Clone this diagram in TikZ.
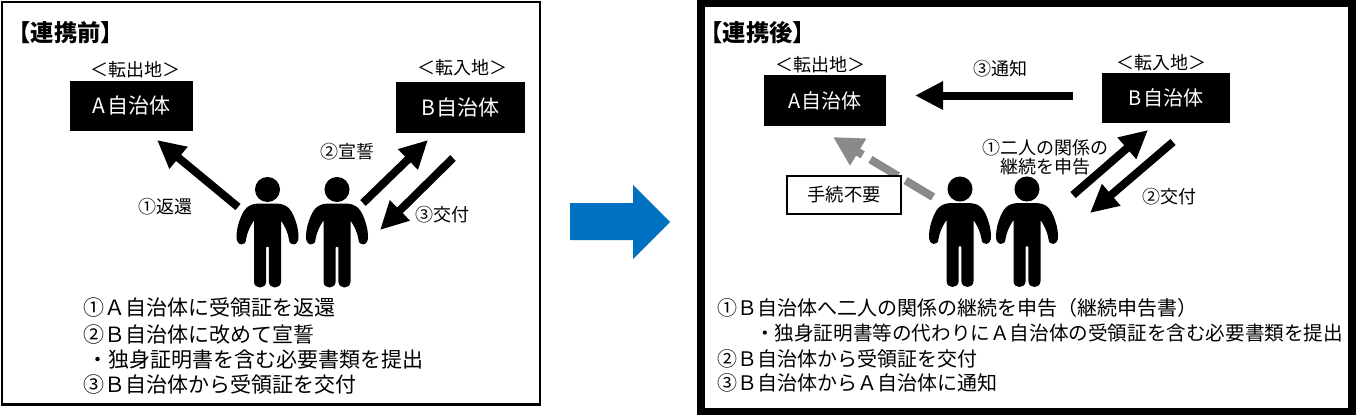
\documentclass[tikz,border=0pt]{standalone}
\usepackage{fontspec}
\newfontfamily\jp{Noto Sans CJK JP}
\newfontfamily\jpp[RawFeature=+palt]{Noto Sans CJK JP}
\usetikzlibrary{arrows.meta}
\definecolor{arrowblue}{HTML}{0070C0}
\definecolor{dgray}{HTML}{8A8A8A}
\tikzset{
  person/.pic={
    \fill (0,0) circle[radius=9.4pt];
    \fill (0,14) -- (7,14)
      .. controls (17,14) and (22,17) .. (26,26)
      .. controls (29,33) and (31,40) .. (31,47)
      .. controls (31.5,57) and (21.5,57) .. (21.5,50)
      .. controls (20.5,43) and (17,36) .. (13.5,31)
      -- (13.5,92)
      .. controls (13.5,100) and (1.4,100) .. (1.4,92)
      -- (1.4,58)
      .. controls (1.4,56.5) and (-1.4,56.5) .. (-1.4,58)
      -- (-1.4,92)
      .. controls (-1.4,100) and (-13.5,100) .. (-13.5,92)
      -- (-13.5,31)
      .. controls (-17,36) and (-20.5,43) .. (-21.5,50)
      .. controls (-21.5,57) and (-31.5,57) .. (-31,47)
      .. controls (-31,40) and (-29,33) .. (-26,26)
      .. controls (-22,17) and (-17,14) .. (-7,14)
      -- cycle;
  }
}
\begin{document}
\begin{tikzpicture}[x=0.75pt,y=-0.75pt,
  every node/.style={inner sep=0pt, outer sep=0pt},
  title/.style={font=\jpp\bfseries\fontsize{17.5pt}{19pt}\selectfont, anchor=west},
  place/.style={font=\jp\fontsize{13.5pt}{15pt}\selectfont},
  muni/.style={fill=black, text=white, font=\jp\fontsize{15.75pt}{18pt}\selectfont},
  munir/.style={fill=black, text=white, font=\jp\fontsize{15pt}{18pt}\selectfont},
  lbl/.style={font=\jp\fontsize{13.5pt}{14.25pt}\selectfont, align=center},
  listl/.style={font=\jp\fontsize{15.75pt}{18pt}\selectfont, anchor=west},
  listr/.style={font=\jp\fontsize{15pt}{18pt}\selectfont, anchor=west},
  listrs/.style={font=\jp\fontsize{14.7pt}{18pt}\selectfont, anchor=west},
  bigarrow/.style={line width=6pt, draw=black, -{Triangle[length=21pt,width=20pt]}},
  grayarrow/.style={line width=6pt, draw=dgray, dash pattern=on 24pt off 6.75pt, -{Triangle[length=22pt,width=22pt]}},
  framel/.style={draw=black, line width=1.9pt},
  framer/.style={draw=black, line width=5.6pt},
  notebox/.style={draw=black, line width=1.3pt, fill=white, font=\jp\fontsize{13.75pt}{15pt}\selectfont}
]
\useasboundingbox (0,0) rectangle (1358,415);
\fill[white] (0,0) rectangle (1358,415);

% frames
\draw[framel] (1.8,1.8) rectangle (540,404.5);
\draw[framer] (701,3.5) rectangle (1352,411.5);

% blue arrow
\fill[arrowblue] (570,203) -- (633,203) -- (633,185) -- (670,222) -- (633,259) -- (633,240) -- (570,240) -- cycle;

% ---------- left panel ----------
\node[title] (tl) at (19,33) {【連携前】};
\node[place] (pl1) at (135,70) {＜転出地＞};
\node[place] (pl2) at (462,68) {＜転入地＞};
\node[muni, minimum width=92.25pt, minimum height=37.5pt] (Al) at (131.5,106) {A\kern1pt 自治体};
\node[muni, minimum width=96.75pt, minimum height=38.25pt] (Bl) at (460.5,107.5) {B\kern1pt 自治体};

\coordinate (r1s) at (238,207);
\coordinate (r1e) at (157,140);
\coordinate (s2s) at (363,203);
\coordinate (s2e) at (428,140);
\coordinate (k3s) at (453,158);
\coordinate (k3e) at (380,230);
\draw[bigarrow] (r1s) -- (r1e);
\draw[bigarrow] (s2s) -- (s2e);
\draw[bigarrow] (k3s) -- (k3e);

\node[lbl] (lr1) at (165,207) {①返還};
\node[lbl] (ls2) at (347,152) {②宣誓};
\node[lbl] (lk3) at (442,215) {③交付};

\pic at (267.5,189.5) {person};
\pic at (337,189.5) {person};

\node[listl] (L1) at (83,308) {①Ａ自治体に受領証を返還};
\node[listl] (L2) at (83,335) {②Ｂ自治体に改めて宣誓};
\node[listl] (L3) at (87,360) {・独身証明書を含む必要書類を提出};
\node[listl] (L4) at (83,385) {③Ｂ自治体から受領証を交付};

% ---------- right panel ----------
\node[title] (tr) at (711,33) {【連携後】};
\node[place] (pr1) at (820,65) {＜転出地＞};
\node[place] (pr2) at (1161,63) {＜転入地＞};
\node[munir, minimum width=91.5pt, minimum height=38.25pt] (Ar) at (825,100.5) {A\kern1pt 自治体};
\node[munir, minimum width=96pt, minimum height=37.5pt] (Br) at (1166,98) {B\kern1pt 自治体};

\coordinate (t3s) at (1073,95.5);
\coordinate (t3e) at (915,95.5);
\coordinate (gs) at (933,197);
\coordinate (ge) at (833,137);
\coordinate (u1s) at (1073,195);
\coordinate (u1e) at (1148,130);
\coordinate (d2s) at (1173,142);
\coordinate (d2e) at (1090,213);
\draw[bigarrow] (t3s) -- (t3e);
\draw[grayarrow] (gs) -- (ge);
\draw[bigarrow] (u1s) -- (u1e);
\draw[bigarrow] (d2s) -- (d2e);

\node[lbl] (lt3) at (1000,69) {③通知};
\node[lbl] (lu1) at (1045,157.5) {①二人の関係の\\継続を申告};
\node[lbl] (ld2) at (1169,197) {②交付};
\node[notebox, minimum width=85.5pt, minimum height=28.5pt] (nb) at (844,195) {手続不要};

\pic at (960,189) {person};
\pic at (1027,189) {person};

\node[listr] (R1) at (717,308) {①Ｂ自治体へ二人の関係の継続を申告（継続申告書）};
\node[listrs] (R2) at (755,333.5) {・独身証明書等の代わりにＡ自治体の受領証を含む必要書類を提出};
\node[listr] (R3) at (717,358.5) {②Ｂ自治体から受領証を交付};
\node[listr] (R4) at (717,382.5) {③Ｂ自治体からＡ自治体に通知};
\end{tikzpicture}
\end{document}
